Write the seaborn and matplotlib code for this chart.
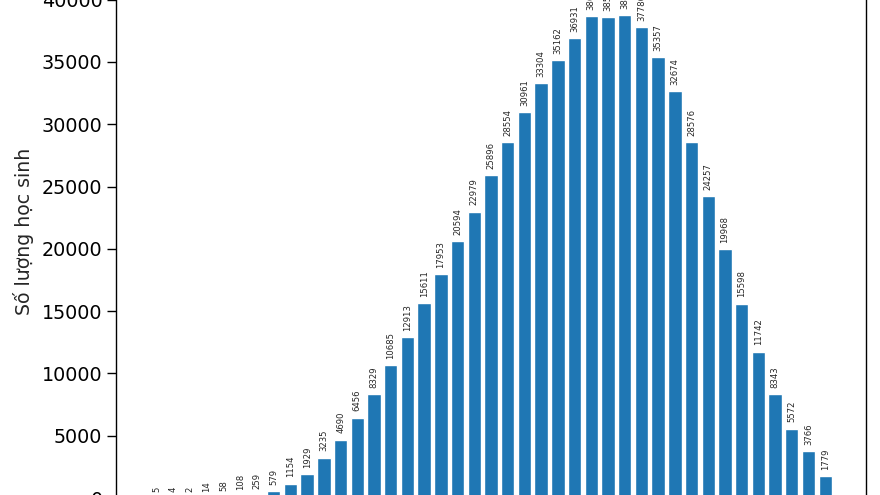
import numpy as np
import pandas as pd
import matplotlib
matplotlib.use("Agg")
import matplotlib.pyplot as plt
import seaborn as sns

# score bins 0, 0.25, ..., 10
scores = [i * 0.25 for i in range(41)]
counts = [5, 4, 2, 14, 58, 108, 259, 579, 1154, 1929, 3235, 4690, 6456,
          8329, 10685, 12913, 15611, 17953, 20594, 22979, 25896, 28554, 30961,
          33304, 35162, 36931, 38650, 38590, 38750, 37786, 35357, 32674, 28576,
          24257, 19968, 15598, 11742, 8343, 5572, 3766, 1779]
y_label = "Số lượng học sinh"

df = pd.DataFrame({"score": scores, "count": counts})

sns.set_style("ticks")
plt.rcParams["font.family"] = ["DejaVu Sans"]
plt.rcParams["axes.edgecolor"] = "black"
plt.rcParams["xtick.color"] = "black"
plt.rcParams["ytick.color"] = "black"

fig = plt.figure(figsize=(8.8, 4.95), dpi=100)
# the reference is a crop of a bigger figure: the axes run past the top and bottom
ax = fig.add_axes([116 / 880, -3 / 495, 750 / 880, 523.3 / 495])

sns.barplot(data=df, x="score", y="count", native_scale=True, color="#1f77b4",
            saturation=1, width=0.8, ax=ax)

ax.bar_label(ax.containers[0], labels=[str(c) for c in counts], rotation=90,
             fontsize=6.1, padding=4.5)

ax.set_xlim(min(scores) - 0.61, max(scores) + 0.61)
ax.set_ylim(0, 42000)
ax.set_yticks(range(0, 42000, 5000))
ax.tick_params(axis="both", labelsize=13.8, length=6.3, width=1.0)
for s in ax.spines.values():
    s.set_linewidth(1.0)
ax.set_xlabel("")
ax.set_ylabel(y_label, fontsize=13.6)
ax.yaxis.set_label_coords(-0.109, 0.51)

fig.savefig("out.png", dpi=100)
